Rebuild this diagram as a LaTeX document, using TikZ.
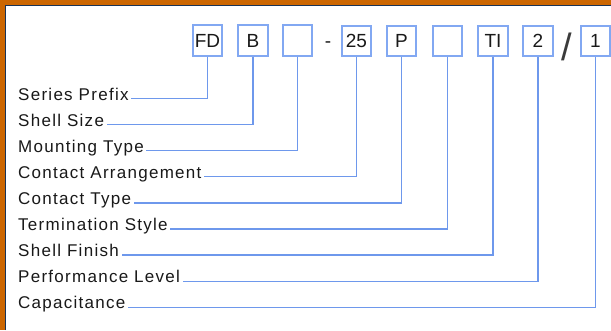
\documentclass[tikz,border=0pt]{standalone}
\usepackage{fontspec}
\setmainfont{Liberation Sans}
\newfontfamily\labfont[LetterSpace=7.5]{Liberation Sans}
\definecolor{orng}{RGB}{204,102,0}
\definecolor{navy}{RGB}{25,50,85}
\definecolor{lblue}{RGB}{110,152,236}
\definecolor{bblue}{RGB}{130,168,242}
\definecolor{txt}{RGB}{25,25,25}
\tikzset{
  codebox/.style={draw=bblue, line width=1.6pt, minimum width=29.5pt, minimum height=30.5pt, inner sep=0pt, text=txt, font=\fontsize{19}{19}\selectfont},
  lab/.style={anchor=base west, inner xsep=2.5pt, inner ysep=0pt, text=txt, font=\labfont\fontsize{17}{17}\selectfont},
  conn/.style={draw=lblue, line width=1.25pt},
}
\begin{document}
\begin{tikzpicture}[x=1pt,y=-1pt]
\useasboundingbox (0,0) rectangle (611,330);
\fill[white] (0,0) rectangle (611,330);
\fill[orng] (0,0) rectangle (611,4.6);
\fill[orng] (0,0) rectangle (4.6,330);
\draw[navy, line width=1.8pt] (5.5,330) -- (5.5,5.5) -- (611,5.5);

% code boxes
\node[codebox] (b1) at (207.5,40.5) {FD};
\node[codebox] (b2) at (253,40.5) {B};
\node[codebox] (b3) at (297.5,40.5) {};
\node[text=txt, font=\fontsize{19}{19}\selectfont, inner sep=0pt, anchor=base] (dash) at (328,47) {-};
\node[codebox] (b4) at (356.5,41) {25};
\node[codebox] (b5) at (401.5,41) {P};
\node[codebox] (b6) at (447.5,41) {};
\node[codebox] (b7) at (493,41) {TI};
\node[codebox] (b8) at (538,41) {2};
\node[text=txt!85, font=\fontsize{38}{38}\selectfont, inner sep=0pt] (slash) at (567,47) {/};
\node[codebox] (b9) at (595.5,41) {1};

% labels
\node[lab] (l1) at (15.5,100.0) {Series Prefix};
\node[lab] (l2) at (15.5,126.1) {Shell Size};
\node[lab] (l3) at (15.5,152.2) {Mounting Type};
\node[lab] (l4) at (15.5,178.3) {Contact Arrangement};
\node[lab] (l5) at (15.5,204.4) {Contact Type};
\node[lab] (l6) at (15.5,230.5) {Termination Style};
\node[lab] (l7) at (15.5,256.6) {Shell Finish};
\node[lab] (l8) at (15.5,282.7) {Performance Level};
\node[lab] (l9) at (15.5,308.8) {Capacitance};

% connectors
\draw[conn] (b1.south) |- ([yshift=1.5pt]l1.base east);
\draw[conn] (b2.south) |- ([yshift=1.5pt]l2.base east);
\draw[conn] (b3.south) |- ([yshift=1.5pt]l3.base east);
\draw[conn] (b4.south) |- ([yshift=1.5pt]l4.base east);
\draw[conn] (b5.south) |- ([yshift=1.5pt]l5.base east);
\draw[conn] (b6.south) |- ([yshift=1.5pt]l6.base east);
\draw[conn] (b7.south) |- ([yshift=1.5pt]l7.base east);
\draw[conn] (b8.south) |- ([yshift=1.5pt]l8.base east);
\draw[conn] (b9.south) |- ([yshift=1.5pt]l9.base east);
\end{tikzpicture}
\end{document}
